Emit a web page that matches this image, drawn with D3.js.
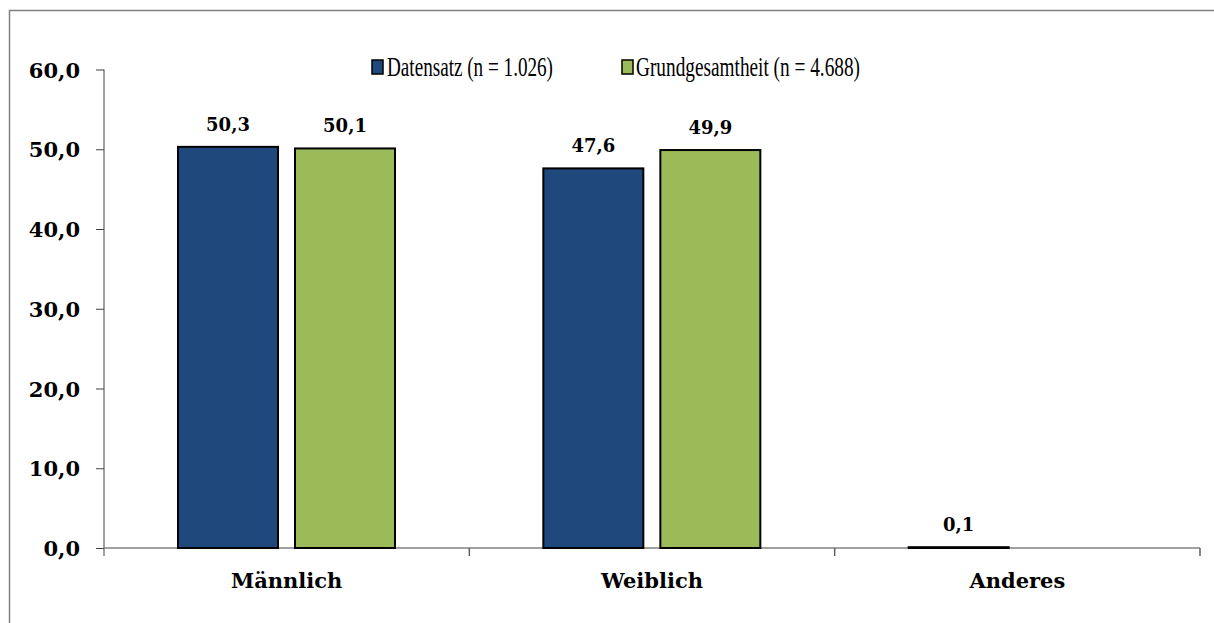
<!DOCTYPE html>
<html><head><meta charset="utf-8">
<script src="https://cdn.jsdelivr.net/npm/d3@7"></script>
<style>html,body{margin:0;padding:0;background:#fff;overflow:hidden}</style>
</head><body>
<svg id="c" width="1214" height="623"></svg>
<script>
const categories = ["Männlich", "Weiblich", "Anderes"];
const seriesNames = ["Datensatz (n = 1.026)", "Grundgesamtheit (n = 4.688)"];
const datensatz = [50.3, 47.6, 0.1];
const grundgesamtheit = [50.1, 49.9, null];
const yTicks = [0, 10, 20, 30, 40, 50, 60];

const colors = ["#1F487C", "#9BBB59"];
const svg = d3.select("#c");
const fmt = v => v.toFixed(1).replace(".", ",");
const serif = "'DejaVu Serif', serif";

// outer frame
svg.append("rect").attr("x", 9.5).attr("y", 10.5).attr("width", 1300).attr("height", 700)
  .attr("fill", "none").attr("stroke", "#808080").attr("stroke-width", 1.5);

const x0 = 104, x1 = 1200, yTop = 69.5, yBase = 548;
const x = d3.scaleBand().domain(categories).range([x0, x1]);
const y = d3.scaleLinear().domain([0, 60]).range([yBase, yTop]);

// y axis
const yAxis = svg.append("g").attr("transform", `translate(${x0},0)`)
  .call(d3.axisLeft(y).tickValues(yTicks).tickSize(8).tickFormat(fmt));
yAxis.select(".domain").attr("stroke", "#404040").attr("d", `M0,${yTop}V${yBase+8}`);
yAxis.selectAll(".tick line").attr("stroke", "#404040");
yAxis.selectAll(".tick text").attr("x", -24).attr("dy", "0.36em")
  .style("font-family", serif).style("font-weight", "bold").style("font-size", "21px").attr("fill", "#000");

// x axis
const xAxisG = svg.append("g");
xAxisG.append("line").attr("x1", x0).attr("x2", x1).attr("y1", yBase).attr("y2", yBase)
  .attr("stroke", "#808080").attr("stroke-width", 1.5);
const bounds = categories.map(c => x(c)).concat([x1]);
xAxisG.selectAll("line.tk").data(bounds.slice(1)).enter().append("line")
  .attr("x1", d => d).attr("x2", d => d).attr("y1", yBase).attr("y2", yBase + 8)
  .attr("stroke", "#606060").attr("stroke-width", 1.5);
xAxisG.selectAll("text").data(categories).enter().append("text")
  .attr("x", d => x(d) + x.bandwidth() / 2).attr("y", 588)
  .attr("text-anchor", "middle").style("font-family", serif).style("font-weight", "bold")
  .style("font-size", "21px").text(d => d);

// bars
const sub = d3.scaleBand().domain([0, 1]).range([74, 291]).paddingInner(17 / 117).paddingOuter(0);
const series = [datensatz, grundgesamtheit];
series.forEach((vals, si) => {
  const data = categories.map((c, i) => ({c, v: vals[i]})).filter(d => d.v !== null);
  const g = svg.append("g");
  g.selectAll("rect").data(data).enter().append("rect")
    .attr("x", d => x(d.c) + sub(si)).attr("width", sub.bandwidth())
    .attr("y", d => y(d.v)).attr("height", d => Math.max(0, yBase - y(d.v)))
    .attr("fill", colors[si]).attr("stroke", "#000").attr("stroke-width", 2);
  g.selectAll("text").data(data).enter().append("text")
    .attr("x", d => x(d.c) + sub(si) + sub.bandwidth() / 2)
    .attr("y", d => y(d.v) - 16)
    .attr("text-anchor", "middle").style("font-family", serif).style("font-weight", "bold")
    .style("font-size", "18px").text(d => fmt(d.v));
});

// legend
const legend = [{x: 372, tx: 387, w: 166}, {x: 622, tx: 636, w: 224}];
legend.forEach((l, i) => {
  svg.append("rect").attr("x", l.x).attr("y", 60).attr("width", 11).attr("height", 14)
    .attr("fill", colors[i]).attr("stroke", "#000").attr("stroke-width", 1.5);
  svg.append("text").attr("x", l.tx).attr("y", 75.5)
    .attr("textLength", l.w).attr("lengthAdjust", "spacingAndGlyphs")
    .style("font-family", "'Liberation Serif', serif").style("font-size", "27px").text(seriesNames[i]);
});
</script>
</body></html>
